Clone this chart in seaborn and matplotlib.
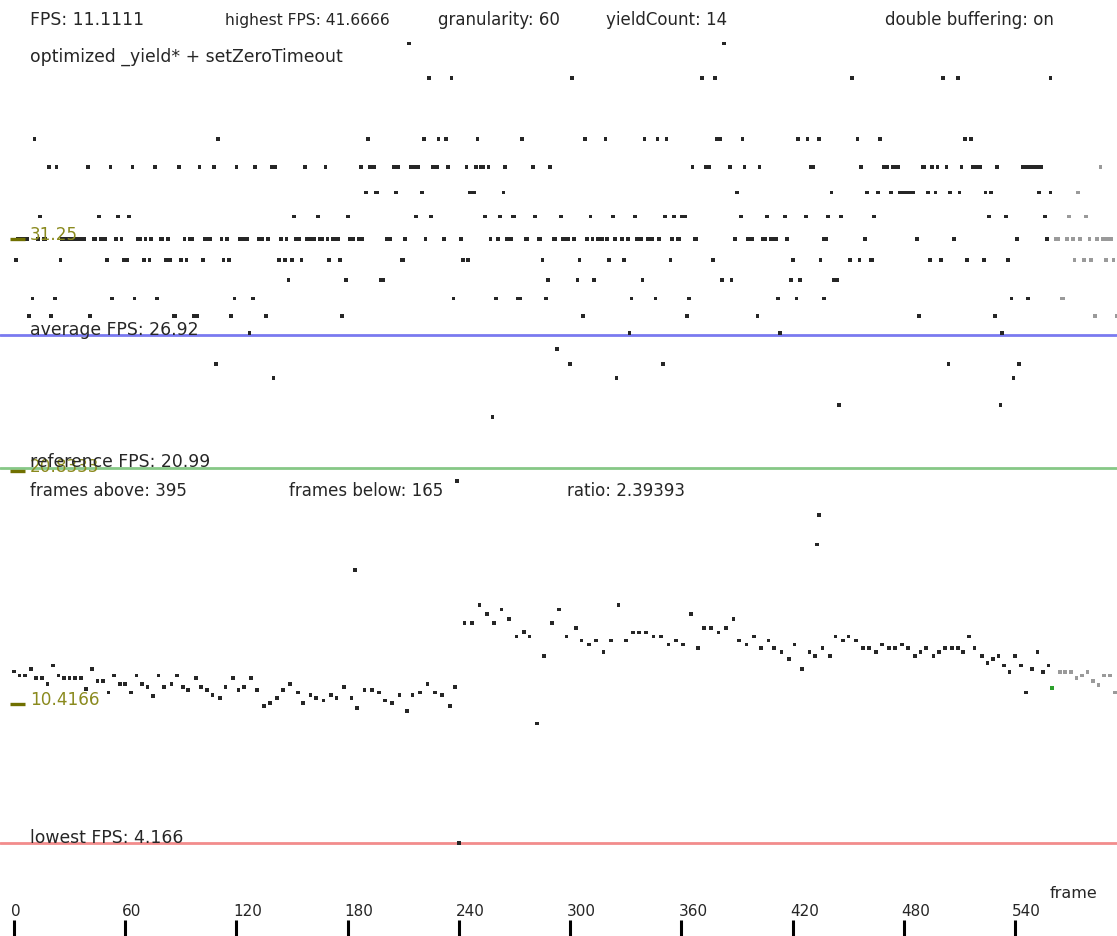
import numpy as np
import pandas as pd
import matplotlib
matplotlib.use("Agg")
import matplotlib.pyplot as plt
import seaborn as sns

# Frame indices grouped by measured frame time (ms); fps = 1000 / ms
frames_25ms = [213, 383]
frames_26ms = [224, 236, 301, 371, 378, 452, 501, 509, 559]
frames_28ms = [11, 110, 191, 221, 229, 233, 250, 274, 308, 319, 340, 347, 352, 379, 381,
               393, 423, 428, 434, 455, 467, 513, 516]
frames_29ms = [19, 23, 40, 52, 64, 76, 89, 100, 108, 120, 130, 139, 141, 157, 168, 187, 192,
               194, 205, 207, 214, 216, 218, 226, 228, 234, 244, 249, 252, 253, 256, 265, 280,
               289, 366, 373, 374, 375, 386, 394, 402, 430, 431, 457, 469, 470, 471, 474, 476,
               477, 490, 491, 495, 498, 503, 511, 517, 519, 520, 521, 530, 544, 545, 547, 548,
               550, 551, 553, 554, 586]
frames_30ms = [190, 195, 196, 206, 220, 246, 248, 264, 390, 441, 460, 466, 473, 478, 480, 481,
               483, 484, 485, 493, 497, 505, 510, 524, 527, 553, 559, 574]
frames_31ms = [14, 46, 56, 62, 151, 164, 180, 217, 225, 254, 262, 269, 270, 281, 295, 311, 323,
               335, 351, 356, 360, 362, 392, 406, 416, 427, 439, 446, 464, 526, 535, 556, 569,
               578]
frames_32ms = [2, 4, 5, 7, 13, 16, 17, 26, 28, 29, 31, 32, 34, 35, 37, 38, 43, 44, 47, 49, 55,
               58, 67, 68, 71, 74, 79, 80, 83, 92, 95, 96, 103, 105, 106, 112, 115, 122, 123,
               125, 126, 132, 133, 134, 137, 144, 147, 152, 154, 158, 159, 161, 162, 165, 166,
               169, 172, 173, 175, 181, 183, 186, 188, 201, 202, 203, 211, 222, 232, 241, 257,
               261, 266, 268, 276, 277, 283, 284, 291, 292, 296, 297, 299, 302, 309, 312, 315,
               316, 317, 320, 324, 328, 331, 336, 338, 342, 343, 344, 348, 355, 358, 359, 367,
               368, 389, 396, 397, 398, 404, 405, 408, 409, 411, 417, 437, 438, 459, 487, 507,
               541, 557, 562, 563, 568, 571, 575, 580, 584, 587, 589, 590, 592]
frames_33ms = [1, 25, 50, 59, 61, 70, 73, 82, 84, 90, 93, 102, 113, 116, 143, 146, 150, 155,
               170, 176, 209, 210, 242, 245, 285, 305, 321, 329, 354, 377, 420, 435, 451, 456,
               462, 463, 494, 500, 514, 523, 536, 572, 577, 581, 589, 593]
frames_34ms = [148, 179, 198, 199, 288, 304, 313, 339, 382, 387, 419, 424, 442, 444]
frames_35ms = [10, 22, 53, 65, 77, 119, 129, 237, 260, 272, 273, 287, 333, 346, 364, 412, 422,
               437, 538, 547, 565, 566]
frames_36ms = [8, 20, 41, 86, 87, 97, 99, 117, 136, 177, 307, 363, 401, 488, 529, 583, 595]
frames_37ms = [127, 332, 413, 533]
frames_38ms = [293]
frames_39ms = [109, 300, 350, 504, 542]
frames_40ms = [140, 325, 539]
frames_42ms = [445, 532]
frames_43ms = [258]
frames_49ms = [239]
frames_53ms = [434]
frames_57ms = [433]
frames_61ms = [184]
frames_240ms = [240]

# Frames that waited on the yield (fps read directly)
slow_frames = [0, 3, 6, 9, 12, 15, 18, 21, 24, 27, 30, 33, 36, 39, 42, 45, 48, 51, 54, 57, 60,
               63, 66, 69, 72, 75, 78, 81, 85, 88, 91, 94, 98, 101, 104, 107, 111, 114, 118,
               121, 124, 128, 131, 135, 138, 142, 145, 149, 153, 156, 160, 163, 167, 171, 174,
               178, 182, 185, 189, 193, 197, 200, 204, 208, 212, 215, 219, 223, 227, 231, 235,
               238, 243, 247, 251, 255, 259, 263, 267, 271, 275, 278, 282, 286, 290, 294, 298,
               303, 306, 310, 314, 318, 322, 326, 330, 334, 337, 341, 345, 349, 353, 357, 361,
               365, 369, 372, 376, 380, 384, 388, 391, 395, 399, 403, 407, 410, 414, 418, 421,
               425, 429, 432, 436, 440, 443, 447, 450, 454, 458, 461, 465, 468, 472, 475, 479,
               482, 486, 489, 492, 496, 499, 502, 506, 509, 512, 515, 518, 522, 525, 528, 531,
               534, 537, 540, 543, 546, 549, 552, 555, 558, 564, 567, 570, 573, 576, 579, 582,
               585, 588, 591, 594]
slow_fps = [11.85, 11.67, 11.67, 11.97, 11.55, 11.55, 11.29, 12.12, 11.67, 11.55, 11.55, 11.55,
            11.55, 11.07, 11.97, 11.42, 11.42, 10.92, 11.67, 11.29, 11.29, 10.92, 11.67, 11.29,
            11.17, 10.77, 11.67, 11.17, 11.29, 11.67, 11.17, 11.04, 11.55, 11.17, 11.04, 10.80,
            10.67, 11.17, 11.55, 11.04, 11.17, 11.55, 11.04, 10.32, 10.44, 10.67, 11.04, 11.29,
            10.92, 10.44, 10.80, 10.67, 10.55, 10.80, 10.67, 11.17, 10.67, 10.23, 11.04, 11.04,
            10.92, 10.55, 10.44, 10.80, 10.10, 10.80, 10.92, 11.29, 10.92, 10.80, 10.32, 11.17,
            14.02, 14.02, 14.85, 14.43, 14.02, 14.63, 14.21, 13.43, 13.64, 13.43, 9.53, 12.56,
            14.02, 14.63, 13.43, 13.81, 13.25, 13.07, 13.25, 12.74, 13.25, 14.85, 13.25, 13.61,
            13.61, 13.61, 13.43, 13.43, 13.07, 13.25, 13.07, 14.42, 12.92, 13.81, 13.81, 13.61,
            13.81, 14.21, 13.25, 13.07, 13.43, 12.92, 13.25, 12.92, 12.74, 12.42, 13.07, 11.97,
            12.74, 12.56, 12.92, 12.56, 13.43, 13.25, 13.43, 13.25, 12.92, 12.92, 12.74, 13.07,
            12.92, 12.92, 13.07, 12.92, 12.56, 12.74, 12.92, 12.56, 12.74, 12.92, 12.92, 12.92,
            12.74, 13.43, 12.92, 12.56, 12.24, 12.42, 12.56, 12.12, 11.82, 12.56, 12.12, 10.92,
            11.97, 12.74, 11.82, 12.12, 11.82, 11.82, 11.82, 11.55, 11.67, 11.82, 11.42, 11.25,
            11.67, 11.67, 10.92]

current_frame = 560
current_fps = 11.1111
highest_fps = 41.6666
average_fps = 26.92
reference_fps = 20.99
lowest_fps = 4.166
frames_above = 395
frames_below = 165
ratio = 2.39393
granularity = 60
yield_count = 14
level_marks = [31.25, 20.8333, 10.4166]
level_labels = ["31.25", "20.8333", "10.4166"]
tick_frames = [0, 60, 120, 180, 240, 300, 360, 420, 480, 540]

timed_rows = [
    (25, frames_25ms), (26, frames_26ms), (28, frames_28ms), (29, frames_29ms),
    (30, frames_30ms), (31, frames_31ms), (32, frames_32ms), (33, frames_33ms),
    (34, frames_34ms), (35, frames_35ms), (36, frames_36ms), (37, frames_37ms),
    (38, frames_38ms), (39, frames_39ms), (40, frames_40ms), (42, frames_42ms),
    (43, frames_43ms), (49, frames_49ms), (53, frames_53ms), (57, frames_57ms),
    (61, frames_61ms), (240, frames_240ms),
]
records = [(f, 1000.0 / ms) for ms, fr in timed_rows for f in fr]
records += list(zip(slow_frames, slow_fps))
df = pd.DataFrame(records, columns=["frame", "fps"])
# entries past the write head are left over from the previous pass
df["pass"] = np.where(df["frame"] > current_frame, "previous", "current")
head = pd.DataFrame({"frame": [current_frame], "fps": [current_fps], "pass": ["head"]})

W, H = 1117, 937
sns.set_style("white")
plt.rcParams["font.family"] = ["DejaVu Sans"]
fig = plt.figure(figsize=(W / 100, H / 100), dpi=100)
ax = fig.add_axes([0, 0, 1, 1])
ax.set_xlim(-7.55, 594.9)
ax.set_ylim(0, 42.0)
ax.axis("off")

ink = "#262626"
olive = "#8a8a1e"

ax.axhline(average_fps, color="#7a7af0", lw=2.0, zorder=1)
ax.axhline(reference_fps, color="#86c886", lw=2.0, zorder=1)
ax.axhline(lowest_fps, color="#f28c8c", lw=2.0, zorder=1)

sns.scatterplot(data=df, x="frame", y="fps", hue="pass",
                palette={"current": "#262626", "previous": "#9a9a9a"},
                marker="s", s=7, linewidth=0, legend=False, ax=ax, zorder=3)
sns.scatterplot(data=head, x="frame", y="fps", color="#2ca02c",
                marker="s", s=7, linewidth=0, legend=False, ax=ax, zorder=4)

# level marks on the left edge
for v, lab in zip(level_marks, level_labels):
    ax.hlines(v, -2.2, 5.9, color="#707000", lw=2.4, zorder=5)
    ax.text(8.7, v, lab, color=olive, fontsize=12.2, ha="left", va="baseline", zorder=5)


def px(x, y):
    return x / W, 1 - y / H


def label(x, y, s, size=12.0):
    fig.text(*px(x, y), s, color=ink, fontsize=size, ha="left", va="baseline")


label(30, 25, f"FPS: {current_fps}", 12.4)
label(225, 25, f"highest FPS: {highest_fps}", 11.2)
label(438, 25, f"granularity: {granularity}")
label(606, 25, f"yieldCount: {yield_count}")
label(885, 25, "double buffering: on")
label(30, 62, "optimized _yield* + setZeroTimeout", 12.4)
label(30, 335, f"average FPS: {average_fps}", 12.4)
label(30, 467, f"reference FPS: {reference_fps}", 12.4)
label(30, 496, f"frames above: {frames_above}")
label(289, 496, f"frames below: {frames_below}")
label(567, 496, f"ratio: {ratio}")
label(30, 843, f"lowest FPS: {lowest_fps}", 12.4)
label(1050, 898, "frame", 11.5)

# frame axis along the bottom
ax.vlines(tick_frames, 0, 0.72, color="black", lw=2.2, zorder=5)
for t in tick_frames:
    ax.text(t - 1.6, 0.95, str(t), color=ink, fontsize=11, ha="left", va="baseline")

fig.savefig("out.png", dpi=100)
